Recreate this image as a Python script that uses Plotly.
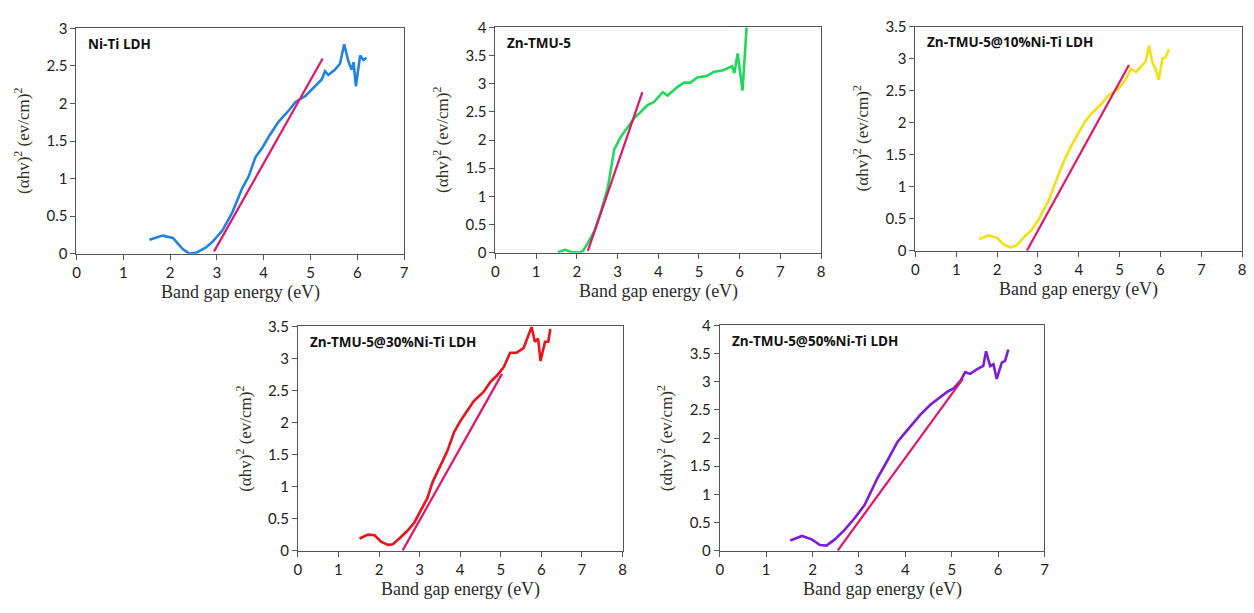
import plotly.graph_objects as go

# ---- Tauc plot data: photon energy (eV) vs (alpha*h*nu)^2 ----
niti_x = [1.56, 1.84, 2.06, 2.27, 2.41, 2.55, 2.76, 2.91, 3.12, 3.33, 3.54, 3.68, 3.82, 3.97, 4.11,
          4.32, 4.54, 4.68, 4.89, 5.03, 5.24, 5.31, 5.38, 5.52, 5.63, 5.72, 5.81, 5.88, 5.92, 5.97,
          6.06, 6.13, 6.20]
niti_y = [0.185, 0.24, 0.21, 0.06, 0.0, 0.01, 0.08, 0.16, 0.31, 0.55, 0.87, 1.03, 1.28, 1.41, 1.56,
          1.76, 1.91, 2.02, 2.10, 2.19, 2.32, 2.43, 2.38, 2.45, 2.53, 2.79, 2.56, 2.45, 2.55, 2.23,
          2.64, 2.58, 2.61]

zn_x = [1.54, 1.71, 1.87, 2.03, 2.15, 2.27, 2.44, 2.60, 2.76, 2.92, 3.09, 3.25, 3.41, 3.57, 3.74,
        3.90, 4.11, 4.23, 4.47, 4.63, 4.79, 4.96, 5.20, 5.36, 5.60, 5.81, 5.87, 5.95, 6.07, 6.17, 6.25]
zn_y = [0.01, 0.05, 0.01, 0.0, 0.03, 0.17, 0.40, 0.75, 1.15, 1.84, 2.07, 2.24, 2.39, 2.50, 2.62,
        2.68, 2.85, 2.79, 2.94, 3.02, 3.02, 3.11, 3.14, 3.21, 3.24, 3.31, 3.19, 3.54, 2.88, 4.0, 4.5]

c10_x = [1.56, 1.80, 2.00, 2.16, 2.33, 2.49, 2.69, 2.85, 3.01, 3.26, 3.50, 3.66, 3.82, 3.99, 4.15,
         4.31, 4.55, 4.72, 4.96, 5.12, 5.28, 5.40, 5.56, 5.64, 5.72, 5.80, 5.88, 5.96, 6.05, 6.13, 6.21]
c10_y = [0.18, 0.24, 0.20, 0.10, 0.05, 0.09, 0.23, 0.33, 0.48, 0.78, 1.18, 1.43, 1.64, 1.84, 2.01,
         2.14, 2.29, 2.42, 2.52, 2.64, 2.84, 2.79, 2.90, 2.95, 3.20, 2.95, 2.84, 2.67, 3.00, 3.02, 3.15]

c30_x = [1.52, 1.73, 1.89, 2.05, 2.22, 2.34, 2.50, 2.70, 2.87, 3.03, 3.19, 3.32, 3.52, 3.68, 3.85,
         4.01, 4.17, 4.33, 4.58, 4.74, 4.90, 5.07, 5.23, 5.39, 5.56, 5.68, 5.76, 5.84, 5.92, 5.98,
         6.09, 6.17, 6.22]
c30_y = [0.19, 0.25, 0.24, 0.14, 0.09, 0.10, 0.19, 0.31, 0.44, 0.62, 0.82, 1.07, 1.35, 1.55, 1.85,
         2.03, 2.18, 2.33, 2.48, 2.63, 2.73, 2.86, 3.09, 3.09, 3.16, 3.34, 3.49, 3.26, 3.31, 2.96,
         3.26, 3.26, 3.46]

c50_x = [1.52, 1.77, 1.98, 2.16, 2.30, 2.48, 2.69, 2.91, 3.12, 3.26, 3.40, 3.62, 3.83, 3.97, 4.12,
         4.33, 4.54, 4.76, 4.90, 5.04, 5.19, 5.29, 5.40, 5.54, 5.68, 5.74, 5.83, 5.90, 5.97, 6.08,
         6.15, 6.22]
c50_y = [0.18, 0.26, 0.20, 0.10, 0.09, 0.20, 0.37, 0.58, 0.81, 1.04, 1.29, 1.61, 1.93, 2.07, 2.22,
         2.42, 2.59, 2.73, 2.82, 2.88, 3.02, 3.17, 3.14, 3.22, 3.28, 3.54, 3.28, 3.31, 3.05, 3.34,
         3.37, 3.57]

# Linear extrapolation segments (start and end points)
fit_x = {"niti": [2.94, 5.26], "zn": [2.27, 3.61], "c10": [2.73, 5.23],
         "c30": [2.58, 5.03], "c50": [2.54, 5.24]}
fit_y = {"niti": [0.03, 2.60], "zn": [0.03, 2.85], "c10": [0.0, 2.90],
         "c30": [0.0, 2.76], "c50": [0.0, 3.05]}

panel_titles = ["Ni-Ti LDH", "Zn-TMU-5", "Zn-TMU-5@10%Ni-Ti LDH",
                "Zn-TMU-5@30%Ni-Ti LDH", "Zn-TMU-5@50%Ni-Ti LDH"]
keys = ["niti", "zn", "c10", "c30", "c50"]
curves_x = [niti_x, zn_x, c10_x, c30_x, c50_x]
curves_y = [niti_y, zn_y, c10_y, c30_y, c50_y]
colors = ["#1f84e0", "#1fd95a", "#f2e012", "#e8141a", "#7a1fd6"]
x_max = [7, 8, 8, 8, 7]
y_max = [3, 4, 3.5, 3.5, 4]

W, H = 1254, 613
# plot-area rectangles in pixels: (left, top, right, bottom)
boxes = [(73, 19, 403, 251), (495, 18, 823, 250), (918, 17, 1247, 248),
         (296, 326, 623, 557), (721, 325, 1048, 557)]

FIT_COLOR = "#e3146c"
TICK_FONT = dict(family="Lato, Open Sans, sans-serif", size=15, color="#222222")
SERIF = "Liberation Serif, Times New Roman, serif"

fig = go.Figure()
layout = dict(width=W, height=H, margin=dict(l=0, r=0, t=0, b=0),
              paper_bgcolor="white", plot_bgcolor="white", showlegend=False)
annotations = []

for i in range(5):
    n = "" if i == 0 else str(i + 1)
    xa, ya = "x" + n, "y" + n
    l, t, r, b = boxes[i]
    fig.add_trace(go.Scatter(x=curves_x[i], y=curves_y[i], mode="lines",
                             line=dict(color=colors[i], width=2.6),
                             xaxis=xa, yaxis=ya))
    fig.add_trace(go.Scatter(x=fit_x[keys[i]], y=fit_y[keys[i]], mode="lines",
                             line=dict(color=FIT_COLOR, width=2.2),
                             xaxis=xa, yaxis=ya))
    common = dict(showgrid=False, zeroline=False, showline=True, mirror=True,
                  linecolor="#555555", linewidth=1, ticks="outside", ticklen=5,
                  tickcolor="#555555", tickfont=TICK_FONT)
    layout["xaxis" + n] = dict(domain=[l / W, r / W], anchor=ya, range=[0, x_max[i]],
                               dtick=1, **common)
    layout["yaxis" + n] = dict(domain=[1 - b / H, 1 - t / H], anchor=xa, range=[0, y_max[i]],
                               dtick=0.5, tickformat="~g", **common)
    # in-plot sample label
    annotations.append(dict(text="<b>" + panel_titles[i] + "</b>", xref=xa + " domain",
                            yref=ya + " domain", x=0.03, y=0.93, xanchor="left",
                            yanchor="middle", showarrow=False,
                            font=dict(family="Open Sans, sans-serif", size=13.5, color="#111111")))
    # axis titles
    annotations.append(dict(text="Band gap energy (eV)", xref="paper", yref="paper",
                            x=(l + r) / 2 / W, y=1 - (b + 40) / H, xanchor="center",
                            yanchor="middle", showarrow=False,
                            font=dict(family=SERIF, size=18, color="#2a2a2a")))
    annotations.append(dict(text="(\u03b1hv)<sup>2</sup> (ev/cm)<sup>2</sup>", xref="paper",
                            yref="paper", x=(l - 55) / W, y=1 - (t + b) / 2 / H,
                            xanchor="center", yanchor="middle", textangle=-90,
                            showarrow=False,
                            font=dict(family=SERIF, size=17, color="#2e3320")))

layout["annotations"] = annotations
fig.update_layout(**layout)
fig.write_html("out.html")
